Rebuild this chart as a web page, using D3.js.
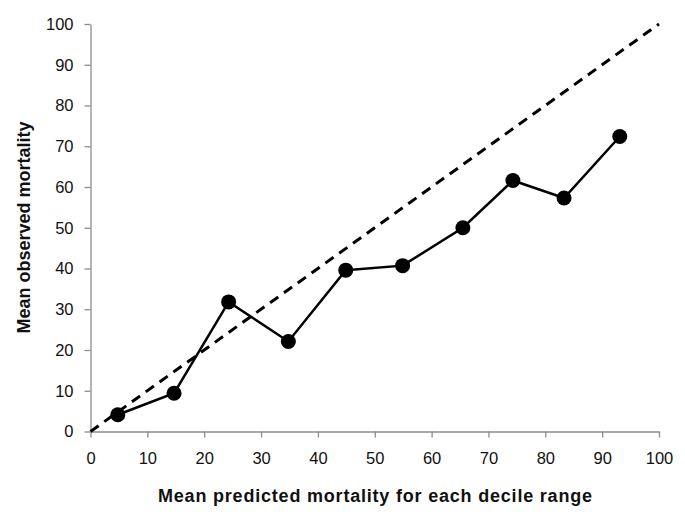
<!DOCTYPE html>
<html>
<head>
<meta charset="utf-8">
<script src="https://cdn.jsdelivr.net/npm/d3@7"></script>
<style>
  html, body { margin: 0; padding: 0; background: #fff; }
  svg { display: block; font-family: "Liberation Sans", Arial, sans-serif; }
</style>
</head>
<body>
<svg id="chart" width="685" height="515"></svg>
<script>
const predicted = [4.8, 14.7, 24.3, 34.8, 44.9, 54.9, 65.5, 74.3, 83.3, 93.1];
const observed  = [4.1, 9.4, 31.8, 22.1, 39.6, 40.7, 50.0, 61.6, 57.3, 72.4];
const referenceX = [0, 100];
const referenceY = [0, 100];
const xTicks = [0, 10, 20, 30, 40, 50, 60, 70, 80, 90, 100];
const yTicks = [0, 10, 20, 30, 40, 50, 60, 70, 80, 90, 100];
const xTitle = "Mean predicted mortality for each decile range";
const yTitle = "Mean observed mortality";

const svg = d3.select("#chart");
const x = d3.scaleLinear().domain([0, 100]).range([90.5, 659]);
const y = d3.scaleLinear().domain([0, 100]).range([431.5, 24]);
const axisColor = "#8c8c8c";

const xAxis = svg.append("g").attr("transform", `translate(0,${y(0)})`)
  .call(d3.axisBottom(x).tickValues(xTicks).tickSize(6).tickSizeOuter(0).tickPadding(15));
const yAxis = svg.append("g").attr("transform", `translate(${x(0)},0)`)
  .call(d3.axisLeft(y).tickValues(yTicks).tickSize(6).tickSizeOuter(0).tickPadding(11));
[xAxis, yAxis].forEach(a => {
  a.select(".domain").attr("stroke", axisColor).attr("stroke-width", 1.3);
  a.selectAll(".tick line").attr("stroke", axisColor).attr("stroke-width", 1.3);
  a.selectAll(".tick text").attr("fill", "#111").style("font-size", "16.5px")
    .style("font-family", "'Liberation Sans', Arial, sans-serif");
});

// reference diagonal
const refData = referenceX.map((v, i) => [v, referenceY[i]]);
svg.append("path").datum(refData)
  .attr("d", d3.line().x(d => x(d[0])).y(d => y(d[1])))
  .attr("fill", "none").attr("stroke", "#000").attr("stroke-width", 3)
  .attr("stroke-dasharray", "10,7");

// observed series
const data = predicted.map((v, i) => [v, observed[i]]);
svg.append("path").datum(data)
  .attr("d", d3.line().x(d => x(d[0])).y(d => y(d[1])))
  .attr("fill", "none").attr("stroke", "#000").attr("stroke-width", 2.5);
svg.selectAll("circle.pt").data(data).enter().append("circle")
  .attr("class", "pt")
  .attr("cx", d => x(d[0])).attr("cy", d => y(d[1])).attr("r", 7.5)
  .attr("fill", "#000");

svg.append("text").attr("x", 375).attr("y", 502).attr("text-anchor", "middle")
  .attr("textLength", 434).attr("lengthAdjust", "spacing")
  .style("font-size", "18px").style("font-weight", "bold").attr("fill", "#111")
  .text(xTitle);
svg.append("text").attr("transform", "translate(30,227.5) rotate(-90)").attr("text-anchor", "middle")
  .style("font-size", "18px").style("font-weight", "bold").attr("fill", "#111")
  .text(yTitle);
</script>
</body>
</html>
